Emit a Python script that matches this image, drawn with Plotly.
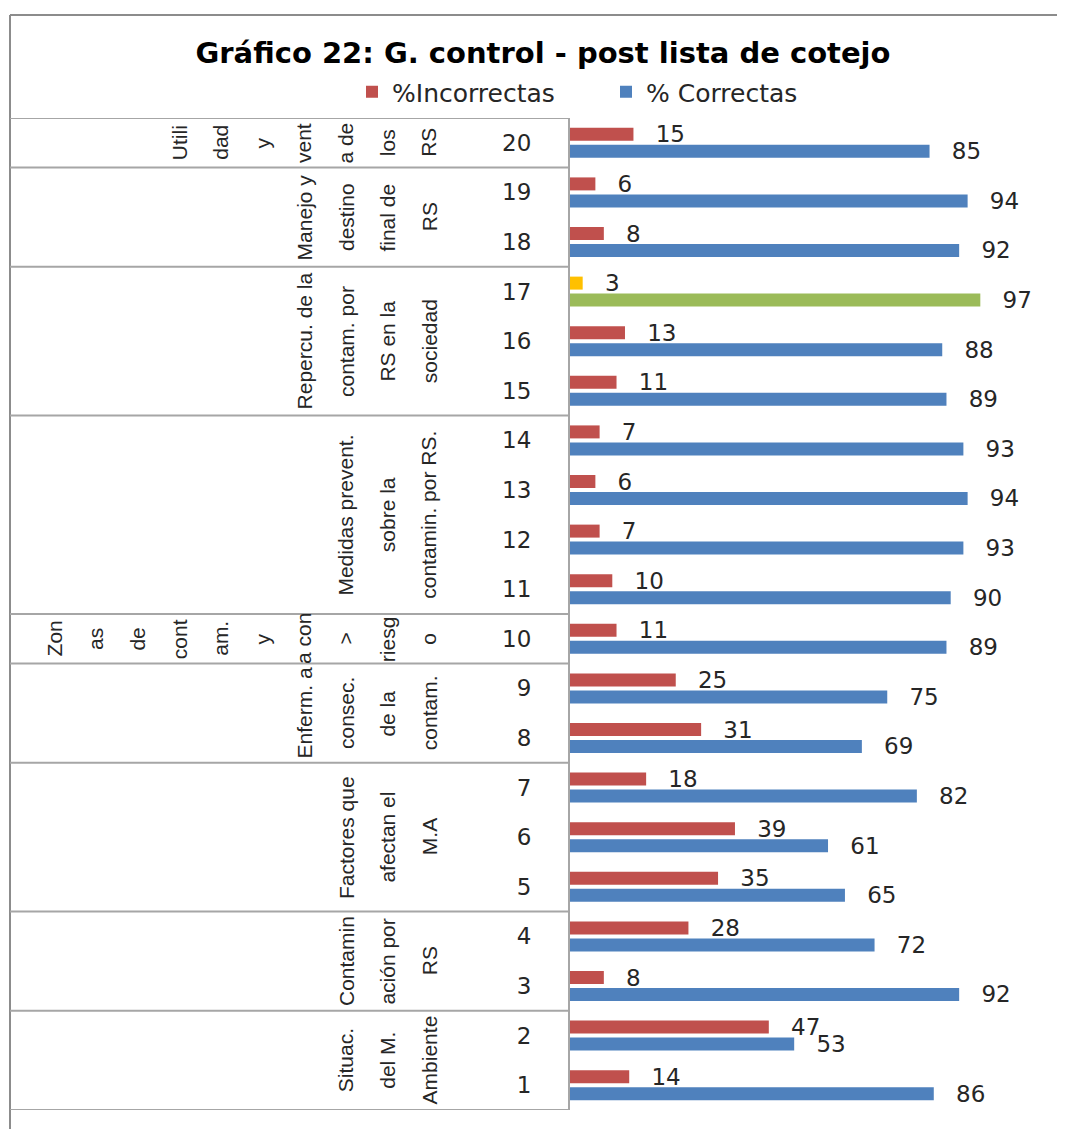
import plotly.graph_objects as go

# ---------------- data ----------------
items = list(range(1, 21))
item_labels = [str(i) for i in items]
incorrectas = [14, 47, 8, 28, 35, 39, 18, 31, 25, 11, 10, 7, 6, 7, 11, 13, 3, 8, 6, 15]
correctas = [86, 53, 92, 72, 65, 61, 82, 69, 75, 89, 90, 93, 94, 93, 89, 88, 97, 92, 94, 85]
highlight_item = 17

group_first = [1, 3, 5, 8, 10, 11, 15, 18, 20]
group_last = [2, 4, 7, 9, 10, 14, 17, 19, 20]
group_lines = [
    ["Situac.", "del M.", "Ambiente"],
    ["Contamin", "ación por", "RS"],
    ["Factores que", "afectan el", "M.A"],
    ["Enferm. a", "consec.", "de la", "contam."],
    ["Zon", "as", "de", "cont", "am.", "y", "a con", ">", "riesg", "o"],
    ["Medidas prevent.", "sobre la", "contamin. por RS."],
    ["Repercu. de la", "contam. por", "RS en la", "sociedad"],
    ["Manejo y", "destino", "final de", "RS"],
    ["Utili", "dad", "y", "vent", "a de", "los", "RS"],
]

title_text = "Gráfico 22: G. control - post lista de cotejo"
name_inc = "%Incorrectas"
name_cor = "% Correctas"

# ---------------- style ----------------
OFF = 8                          # page body margin of the html page
PAGE_W, PAGE_H = 1065, 1129
W, H = PAGE_W - OFF, PAGE_H - OFF
PL, PR = 570 - OFF, 993 - OFF    # plot area left/right (figure px)
PT, PB = 118 - OFF, 1110 - OFF   # plot area top/bottom (figure px)
RED, BLUE, YELLOW, GREEN = "#C0504D", "#4F81BD", "#FFC000", "#9BBB59"
LINE = "#A6A6A6"
TXT = "#262626"
NUM_FONT = "DejaVu Sans"


def px2x(px):
    """page x pixel -> paper x"""
    return (px - OFF - PL) / (PR - PL)


def px2y(py):
    """page y pixel -> paper y"""
    return (PB - (py - OFF)) / (PB - PT)


inc_colors = [YELLOW if i == highlight_item else RED for i in items]
cor_colors = [GREEN if i == highlight_item else BLUE for i in items]
pad = "\u00a0\u00a0\u2009"

fig = go.Figure()
fig.add_trace(go.Bar(
    y=items, x=correctas, orientation="h", name=name_cor,
    marker=dict(color=cor_colors, line=dict(width=0)),
    text=[pad + str(v) for v in correctas], textposition="outside",
    textfont=dict(family=NUM_FONT, size=23, color=TXT),
    constraintext="none", cliponaxis=False, legendrank=2, hoverinfo="x+y",
))
fig.add_trace(go.Bar(
    y=items, x=incorrectas, orientation="h", name=name_inc,
    marker=dict(color=inc_colors, line=dict(width=0)),
    text=[pad + str(v) for v in incorrectas], textposition="outside",
    textfont=dict(family=NUM_FONT, size=23, color=TXT),
    constraintext="none", cliponaxis=False, legendrank=1, hoverinfo="x+y",
))

shapes = []
# outer frame
shapes.append(dict(type="line", xref="paper", yref="paper",
                   x0=px2x(10), x1=px2x(PAGE_W + 5), y0=px2y(15), y1=px2y(15),
                   line=dict(color="#8C8C8C", width=2)))
shapes.append(dict(type="line", xref="paper", yref="paper",
                   x0=px2x(10), x1=px2x(10), y0=px2y(15), y1=px2y(PAGE_H + 5),
                   line=dict(color="#8C8C8C", width=2)))
# table horizontal lines at group boundaries
bounds = sorted(set([f - 0.5 for f in group_first] + [l + 0.5 for l in group_last]))
for b in bounds:
    shapes.append(dict(type="line", xref="paper", yref="y",
                       x0=px2x(10), x1=0, y0=b, y1=b,
                       line=dict(color=LINE, width=2)))

annotations = []
LAST_X, STEP = 429, 41.6
for f, l, lines in zip(group_first, group_last, group_lines):
    yc = (f + l) / 2
    n = len(lines)
    for k, t in enumerate(lines):
        xc = LAST_X - (n - 1 - k) * STEP
        annotations.append(dict(
            text=t, xref="paper", yref="y", x=px2x(xc), y=yc,
            xanchor="center", yanchor="middle", textangle=-90, showarrow=False,
            font=dict(family="Liberation Sans", size=21, color=TXT),
        ))

fig.update_layout(
    width=W, height=H,
    margin=dict(l=PL, r=W - PR, t=PT, b=H - PB, pad=0),
    paper_bgcolor="white", plot_bgcolor="white",
    barmode="group", bargap=0.315, bargroupgap=0.235,
    font=dict(family=NUM_FONT, color=TXT),
    title=dict(text="<b>" + title_text + "</b>", xref="container", x=(543 - OFF) / W,
               xanchor="center", yref="container", y=1 - (53 - OFF) / H, yanchor="middle",
               font=dict(family="DejaVu Sans", size=29, color="#000000")),
    legend=dict(orientation="h", xref="paper", x=px2x(352), xanchor="left",
                yref="paper", y=px2y(92), yanchor="middle",
                font=dict(family="DejaVu Sans", size=25, color=TXT),
                entrywidth=209, entrywidthmode="pixels", bgcolor="rgba(0,0,0,0)"),
    xaxis=dict(range=[0, 100], showgrid=False, zeroline=False, showticklabels=False,
               showline=False, fixedrange=True),
    yaxis=dict(range=[0.5, 20.5], tickmode="array", tickvals=items, ticktext=item_labels,
               showgrid=False, zeroline=False, showline=True, linecolor=LINE, linewidth=2,
               ticks="", ticklabelstandoff=32,
               tickfont=dict(family=NUM_FONT, size=23, color=TXT), fixedrange=True),
    shapes=shapes, annotations=annotations,
)

fig.write_html("out.html")
